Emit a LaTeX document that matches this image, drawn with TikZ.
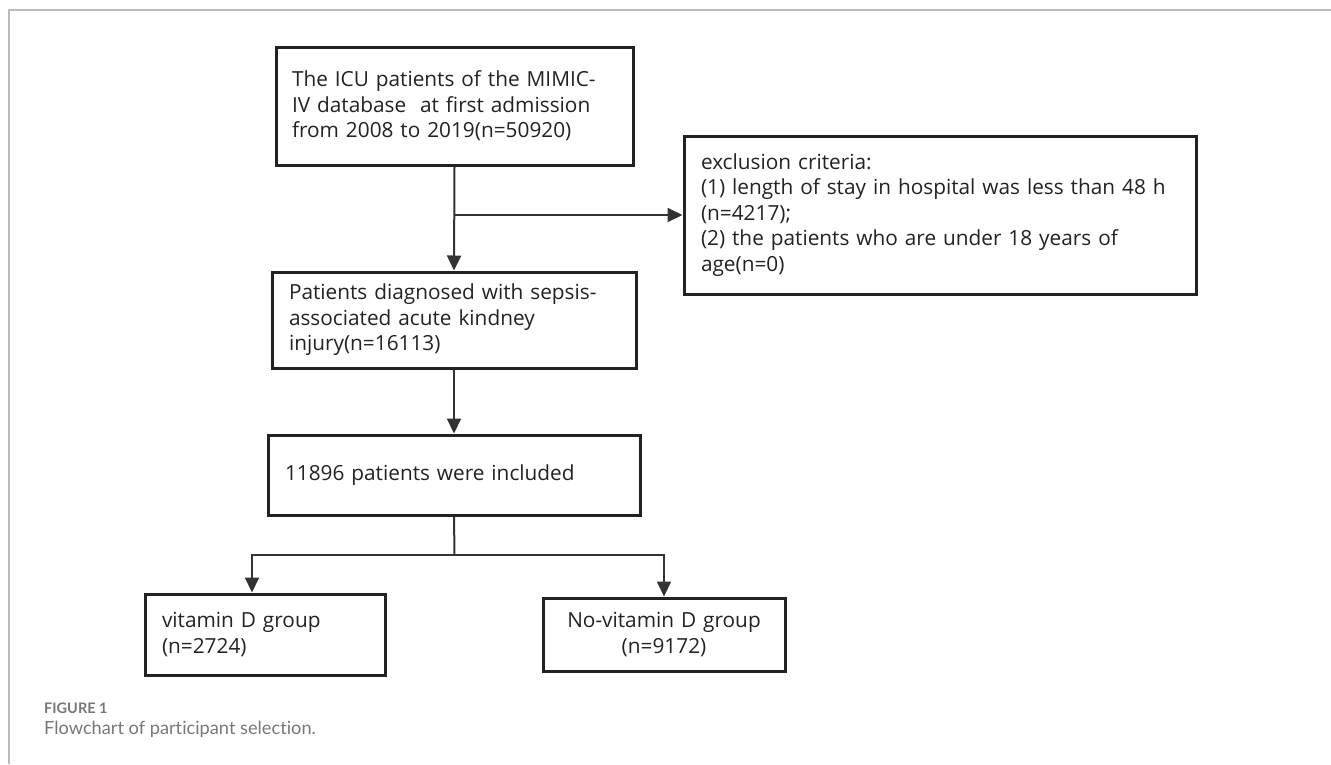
\documentclass[tikz,border=0pt]{standalone}
\usepackage{fontspec}
\setmainfont{Open Sans}
\newfontfamily\capfont[Ligatures=NoCommon]{Lato}
\usetikzlibrary{arrows.meta}
\definecolor{ink}{HTML}{222222}
\definecolor{linecol}{HTML}{333333}
\definecolor{framecol}{HTML}{BBBBBB}
\definecolor{capgray}{HTML}{777777}
\tikzset{
  boxnode/.style={draw=ink, line width=3pt, rectangle, inner sep=0pt, font=\fontsize{20.8}{25.5}\selectfont, text=ink},
  conn/.style={draw=linecol, line width=2pt, -{Triangle[length=15pt,width=14pt]}},
  plainline/.style={draw=linecol, line width=2pt},
}
\begin{document}
\begin{tikzpicture}[x=1pt,y=-1pt]
\useasboundingbox (0,0) rectangle (1331,764);
% frame
\draw[framecol, line width=1.5pt] (9,764) -- (9,10) -- (1331,10);

\node[boxnode, minimum width=357pt, minimum height=118pt, text width=325pt, align=left] (b1) at (454.5,106)
  {The ICU patients of the MIMIC-\\IV database\ \ at first admission\\from 2008 to 2019(n=50920)};
\node[boxnode, minimum width=512pt, minimum height=158pt, text width=478pt, align=left] (ex) at (940,215)
  {exclusion criteria:\\(1) length of stay in hospital was less than 48 h\\(n=4217);\\(2) the patients who are under 18 years of\\age(n=0)};
\node[boxnode, minimum width=364pt, minimum height=96pt, text width=330pt, align=left] (b2) at (454,320)
  {Patients diagnosed with sepsis-\\associated acute kindney\\injury(n=16113)};
\node[boxnode, minimum width=372pt, minimum height=80pt, text width=338pt, align=left] (b3) at (454,475)
  {11896 patients were included};
\node[boxnode, minimum width=240pt, minimum height=81pt, text width=206pt, align=left] (b4) at (265,634.5)
  {vitamin D group\\(n=2724)};
\node[boxnode, minimum width=242pt, minimum height=73pt, text width=230pt, align=center] (b5) at (664,634.5)
  {No-vitamin D group\\(n=9172)};

\coordinate (j1) at (b1.south |- ex.west);
\coordinate (split) at (454.5,555);
\coordinate (a4) at (252,0);

\draw[conn] (b1.south) -- (b2.north);
\draw[conn] (j1) -- (ex.west);
\draw[conn] (b2.south) -- (b3.north);
\draw[plainline] (b3.south) -- (split);
\draw[conn] (split) -| (a4 |- b4.north);
\draw[conn] (split) -| (b5.north);

\node[anchor=base west, inner sep=0pt, font=\capfont\bfseries\fontsize{14.5}{16}\selectfont, text=capgray] (fig) at (44,713) {FIGURE 1};
\node[anchor=base west, inner sep=0pt, font=\capfont\fontsize{18.2}{21}\selectfont, text=capgray] (cap) at (44,734) {Flowchart of participant selection.};
\end{tikzpicture}
\end{document}
